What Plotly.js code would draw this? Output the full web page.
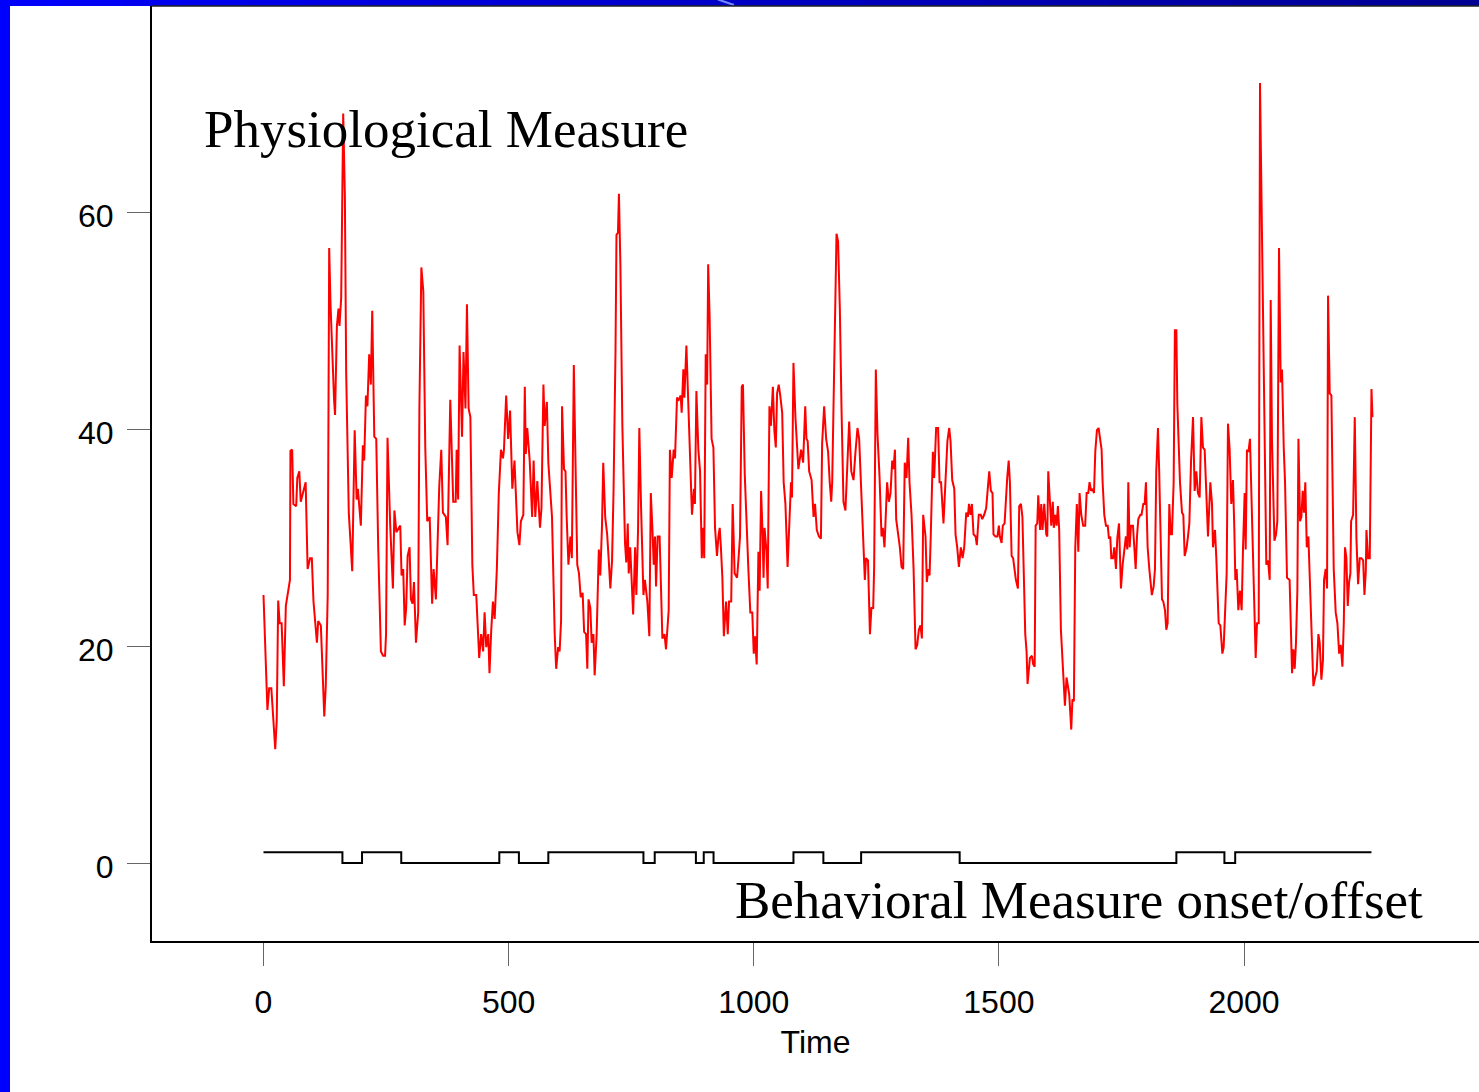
<!DOCTYPE html>
<html>
<head>
<meta charset="utf-8">
<script src="https://cdn.plot.ly/plotly-3.0.1.min.js"></script>
<style>html,body{margin:0;padding:0;background:#fff;}#chart{width:1479px;height:1092px;}</style>
</head>
<body>
<div id="chart"></div>
<script>
// ---- Physiological measure (red) in six pieces ----
const timeA = [0,8,11.6,16,24,27,30,33,37,41.5,
45.6,50,54,55,58.5,61,66.7,69,73,76,
81,86,90,95,98.6,102,109,111.6,117,124,
127,131,134,136.7,144,146,149.7,153,155,158.5,
162.6,166,168.7,174,181,186,190,192.5,198.6,202.7,
205.4,209,212,215.6,219,221.8,226,230,234,239.5,
244,248,250,253,258.5,264,267,271,279,281.6,
285,288,291,294,298,300.7,304,307,311,315.6,
318,322,326,330,334,339,344,347,351.7,355,
358.5,362.6,366,372,375.5];
const physioA = [24.7,14.1,16.1,16.1,10.5,13.1,24.2,22.1,22.1,16.3,
23.7,25.1,26.1,38.0,38.1,33.1,32.9,35.5,36.1,33.3,
34.3,35.1,27.1,28.1,28.1,24.1,20.3,22.3,21.9,13.5,
16.3,24.7,56.7,51.5,42.7,41.3,49.5,51.1,49.5,52.1,
69.1,61.5,45.1,32.3,26.9,39.9,33.5,34.5,31.1,38.5,
37.1,43.1,42.1,46.9,44.1,50.9,39.3,39.1,29.1,19.5,
19.1,19.1,21.1,39.2,31.1,25.3,32.5,30.5,31.1,26.5,
27.1,21.9,23.5,28.3,29.1,24.3,23.9,25.9,20.3,23.1,
41.9,54.9,52.7,38.3,31.5,31.9,23.9,27.1,24.3,29.9,
34.7,38.1,32.3,31.9,29.3];

const timeB = [381,387,392,394,397,400,405,408,412,415,
418.4,422,426,429,434,440,444,448,451,454.4,
458.5,461,464.6,468,471.5,476,480,484.4,488.5,490.5,
495,499,503,507.5,512,518,522,525,530,533,
535,538,543,548,551,554.4,558.5,564,567,571,
573.5,578,581,584.4,588.5,594,597,601,604,607,
609,613,616,618.4,622,626,629,633,637,640,
643.5,647,651,654,658,660.5,663,666.7,669.4,673,
675.5,679.6,684,687,690.5,693,697,701,704,707.5,
711,714,718,720,723,725,728,732,737.4,740,
743,745,748];
const physioB = [42.7,33.3,33.3,38.1,33.5,47.7,39.3,47.1,41.9,51.5,
41.9,41.1,27.5,24.7,24.7,18.9,21.1,19.5,23.1,19.9,
21.1,17.5,21.5,24.1,22.5,27.1,34.1,38.1,37.3,38.1,
43.1,39.1,41.7,34.5,37.1,30.5,29.3,31.5,32.1,43.9,
37.7,40.1,37.1,31.9,37.1,31.9,35.2,30.9,32.7,44.1,
40.3,42.5,36.9,34.3,31.9,21.1,17.9,19.9,19.5,22.3,
42.1,36.3,36.1,31.9,27.5,30.1,28.1,45.9,36.3,27.5,
26.7,24.5,24.9,21.3,21.1,17.9,24.3,23.5,20.3,21.1,
17.3,21.1,28.9,26.5,31.1,36.9,31.9,30.3,28.1,25.3,
27.9,34.3,47.1,57.9,58.1,61.7,55.1,40.3,29.5,27.7,
31.3,26.7,29.1];

const timeC = [754,758,760.5,764,766.6,770,775,778,783,787,
790,793,796,798.6,800.7,804,808,813.6,818,821,
824,826.5,829,832.6,836.7,839.4,843.5,847,851,853,
856.4,858.5,862.6,866.6,869,874,878,880,883,887,
890.5,894,897,899,902,905,907,910,914,917.7,
921,925,928,930.6,933,936,939,943.5,947,949.6,
954,957,961,966,969,972,975.5,978,981.6,985.7,
989,993,997,1000,1002.7,1006,1009.5,1012,1015,1018,
1020,1022,1026,1028.5,1032,1035,1039,1042,1045,1047.6,
1051,1054,1058,1061,1064.6,1069,1072,1076,1078,1081,
1085,1088,1091,1096.6,1100.7,1105,1107.5,1110,1113,1118,
1122,1125,1128.6,1133,1137];
const physioC = [22.9,29.1,24.7,30.7,40.1,33.1,24.7,26.1,24.1,20.9,
34.1,31.1,27.5,30.1,25.5,30.1,30.1,20.7,21.1,19.7,
22.1,23.3,38.1,35.5,38.1,37.3,42.9,42.7,43.1,41.5,
45.5,42.9,47.7,41.5,38.1,32.1,34.5,33.1,43.5,38.1,
36.1,28.1,30.9,28.1,46.9,44.1,55.2,50.3,39.1,38.3,
30.9,28.3,30.1,30.9,29.1,26.3,20.9,24.1,21.1,24.1,
24.1,33.1,26.7,26.3,28.1,30.1,43.9,44.1,35.9,29.9,
27.1,23.1,23.1,19.3,20.9,18.3,28.7,25.1,34.3,30.3,
26.3,30.9,28.7,25.3,42.1,40.3,43.9,39.9,38.3,43.3,
44.1,43.1,41.5,35.1,33.1,27.3,30.3,35.1,33.7,46.1,
41.1,38.1,36.3,38.1,36.9,42.1,39.1,38.9,36.1,35.3,
31.9,33.1,30.7,30.1,29.9];

const timeD = [1139.5,1143.6,1147.7,1151.7,1155,1158,1160,1164,1168.8,1172,
1175.6,1179,1183,1187,1191,1194.6,1199,1203.5,1207.5,1211.6,
1215,1218.4,1221,1226.6,1229,1233,1237,1240,1243.6,1245.6,
1249,1252.4,1256.5,1260.6,1263.3,1266.7,1272,1275.6,1279,1282.4,
1285,1288,1290.5,1294.6,1298,1301.4,1304.8,1308,1311.6,1315,
1317.7,1321.8,1326,1330,1333.4,1336.8,1340,1343,1345.6,1350.4,
1353,1355.8,1358.6,1361,1365.4,1368,1372,1376,1379,1382,
1387,1391,1395,1398.7,1401.4,1404.8,1409,1411.6,1415,1418.4,
1422.5,1426,1429.3,1433.4,1436.8,1439,1442,1445,1448.3,1452.5,
1455,1459,1463,1466,1470,1474,1477.6,1480.3,1483.7,1487,
1489,1493,1497,1500,1502,1505.5,1508,1511.6];
const physioD = [38.7,42.1,39.1,37.9,35.1,33.3,35.1,45.5,58.0,57.3,
51.1,41.9,33.3,32.5,36.1,40.7,36.1,35.3,37.9,40.1,
39.1,35.1,31.5,26.1,28.1,27.9,21.1,23.5,23.5,27.3,
45.5,39.5,35.7,30.1,30.9,29.1,35.1,33.3,34.1,37.1,
36.3,38.1,31.7,30.5,29.1,27.3,27.1,36.9,35.5,39.2,
35.1,32.1,27.1,19.7,20.1,21.5,21.9,20.7,32.1,30.1,
25.9,27.1,26.5,30.1,37.9,35.5,40.1,40.1,35.1,35.1,
31.3,35.1,38.9,40.1,38.9,35.3,34.5,30.3,29.1,27.3,
29.1,28.1,29.1,32.3,31.9,33.1,32.1,33.1,30.3,30.1,
29.3,32.1,32.1,31.7,32.1,32.7,35.1,36.1,34.3,34.1,
30.3,30.1,30.1,31.1,30.1,29.5,31.1,31.3];

const timeE = [1517,1520,1522.5,1526,1529,1532,1534.7,1538.8,1541.5,1545,
1548,1553.8,1556.5,1558.5,1563.3,1567.4,1570,1573,1575,1578.3,
1580.3,1584,1586.4,1589,1592.5,1596.6,1598.7,1600.7,1603.4,1606.8,
1610,1612,1615,1617.7,1620.4,1623,1626.5,1631,1634.7,1638,
1641,1643.5,1647.6,1650,1653,1655.8,1659,1662,1664.6,1668,
1672,1676,1679,1682.3,1685,1688,1691,1694,1696.6,1700,
1703.4,1707,1709.5,1711.6,1715,1718.4,1722,1724.5,1727.2,1729.3,
1732.7,1735.4,1738.8,1741.5,1745,1749,1752.4,1756.5,1759,1762,
1764,1766.7,1769.4,1773.5,1776.2,1779,1781.7,1784.4,1788.5,1791,
1794.6,1797.3,1800,1803.4,1806.8,1809.5,1812,1815.7,1818.4,1821,
1824.5,1827,1830,1832.7,1835.4,1838.8,1841.5,1844.2,1847.6,1850.4,
1853,1856.5,1859,1862,1864,1866.7,1869.4,1873.5,1876.2,1879,
1883,1885.7,1888.5,1892,1894,1896];
const physioE = [35.5,37.1,35.1,28.3,28.1,27.1,26.1,25.3,32.9,33.1,
31.9,21.1,19.5,16.5,18.9,19.1,18.3,18.1,31.1,31.3,
33.9,30.7,33.1,30.7,33.1,30.3,30.1,36.1,34.1,31.1,
33.3,30.9,32.1,31.1,32.9,30.7,21.5,17.1,14.5,17.1,
16.1,15.5,12.3,15.1,14.9,29.1,33.1,28.7,34.1,32.1,
31.1,31.1,34.1,34.1,35.1,34.3,34.5,34.1,37.9,39.9,
40.1,39.1,38.1,35.1,32.1,31.1,31.1,29.9,30.1,28.1,
28.1,29.1,27.1,29.9,31.3,25.3,27.5,29.1,30.1,28.9,
35.1,29.1,31.1,31.1,29.1,27.1,30.1,31.7,32.1,32.1,
33.1,33.1,35.1,29.1,27.1,26.1,24.7,25.5,27.1,36.1,
40.1,36.1,28.1,24.3,24.1,23.3,21.5,22.1,33.1,30.3,
30.3,35.1,49.1,49.1,42.3,39.1,35.1,32.3,32.1,28.3,
29.1,30.1,31.3,37.1,38.7,41.1];

const timeF = [1899.3,1902.7,1906,1909.5,1913,1916.3,1919.7,1923,1926.5,1931.3,
1934.7,1936.7,1940.8,1943.5,1948.3,1951.7,1955.8,1958.5,1961.2,1964.6,
1967.3,1970.7,1974,1977.5,1980.3,1982.3,1985,1988.4,1991.8,1995.2,
1998,2001.3,2003.4,2006,2009,2012.2,2015.6,2019.7,2023.8,2026.5,
2030,2032.6,2035.4,2038.8,2042.8,2045.5,2049,2052.4,2054.4,2057,
2062,2065.3,2068,2071.4,2074.8,2077.5,2081,2083.7,2087.7,2093,
2098,2100.7,2103.4,2106,2108.8,2111,2114.3,2117,2119.7,2122.4,
2125,2128,2131.3,2134,2138,2141.5,2145,2148.3,2151.7,2154.4,
2157.8,2161,2163.2,2166.6,2169.4,2171.4,2174.8,2178.2,2183,2187,
2190.5,2194,2197.3,2200.7,2203.5,2206,2208.8,2211.6,2214.3,2217,
2218.4,2222.5,2225.9,2229.3,2232.7,2236,2239.5,2243,2245.6,2248.4,
2249.7,2253,2256.5,2258.5,2260,2262];
const physioF = [34.3,36.1,34.1,33.7,41.1,38.3,38.1,33.1,30.1,35.1,
33.1,29.1,30.7,28.1,22.1,21.9,19.3,19.9,23.1,26.7,
40.5,38.1,33.1,35.3,30.7,26.1,27.1,23.3,25.1,23.3,
29.1,34.1,28.9,38.1,37.9,39.1,33.1,25.1,18.9,22.1,
22.1,71.9,61.1,48.3,32.3,27.5,27.9,26.1,51.9,39.1,
29.7,30.3,31.5,56.7,44.3,45.5,38.3,35.1,26.3,26.1,
17.5,19.7,17.9,20.3,25.1,39.1,31.5,31.9,34.3,32.3,
35.1,29.1,30.1,26.1,20.3,16.3,17.1,17.7,21.1,20.3,
16.9,18.7,26.1,27.1,25.3,52.3,43.3,43.1,27.1,23.1,
22.1,19.3,20.1,18.1,22.1,29.1,28.1,23.7,25.9,26.7,
31.5,32.1,41.1,29.9,25.7,28.1,28.1,27.9,24.7,26.9,
30.7,28.1,28.1,35.5,43.7,41.1];

// ---- Behavioral measure onset/offset (black step line) ----
const stepTime  = [0,161,201,281,481,521,581,775,798,882,898,918,1081,1142,1219,1420,1862,1960,1982,2260];
const stepState = [1,0,1,0,1,0,1,0,1,0,1,0,1,0,1,0,1,0,1,1];

// ---- Axis ticks and labels ----
const xTicks = [0,500,1000,1500,2000];
const yTicks = [0,20,40,60];
const xTitle = "Time";
const physioLabel = "Physiological Measure";
const behavLabel = "Behavioral Measure onset/offset";

const time = [].concat(timeA,timeB,timeC,timeD,timeE,timeF);
const physio = [].concat(physioA,physioB,physioC,physioD,physioE,physioF);
if (time.length !== physio.length) console.error("length mismatch", time.length, physio.length);

const traces = [
  {x: time, y: physio, type: "scatter", mode: "lines",
   line: {color: "#ff0000", width: 2}, hoverinfo: "skip"},
  {x: stepTime, y: stepState, type: "scatter", mode: "lines",
   line: {color: "#000000", width: 2, shape: "hv"}, hoverinfo: "skip"}
];

// slide frame: blue bars (left solid, top shading to navy)
const W = 1327; // plot width in px
function px2paper(px){ return (px - 152) / W; }
const frame = [];
frame.push({type:"rect", xref:"paper", yref:"paper", x0:px2paper(0), x1:px2paper(10), y0:-0.2, y1:1.02,
  fillcolor:"#0000ff", line:{width:0}, layer:"above"});
const nSeg = 24;
for (let i = 0; i < nSeg; i++) {
  const a = i / nSeg, b = (i + 1) / nSeg;
  const t = (a + b) / 2;
  const blue = Math.round(250 - 105 * t);
  frame.push({type:"rect", xref:"paper", yref:"paper",
    x0: px2paper(1479 * a), x1: px2paper(1479 * b) + 0.001,
    y0: 1, y1: 1 + 7/935,
    fillcolor: "rgb(0,0," + blue + ")", line:{width:0}, layer:"above"});
}
frame.push({type:"rect", xref:"paper", yref:"paper", x0:px2paper(0), x1:px2paper(10), y0:0.5, y1:1+7/935,
  fillcolor:"#0000ff", line:{width:0}, layer:"above"});
frame.push({type:"line", xref:"paper", yref:"paper", x0:px2paper(718), x1:px2paper(734), y0:1+6.5/935, y1:1+1/935,
  line:{color:"#6f8cff", width:2}, layer:"above"});
// top edge of the chart box
frame.push({type:"line", xref:"paper", yref:"paper", x0:0, x1:1, y0:1, y1:1,
  line:{color:"#222", width:1.5}, layer:"above"});

const axisFont = {family: "Liberation Sans, Arial, sans-serif", size: 32, color: "#000"};
const serifFont = {family: "Liberation Serif, Times New Roman, serif", size: 53, color: "#000"};

const layout = {
  width: 1479, height: 1092,
  paper_bgcolor: "#ffffff", plot_bgcolor: "#ffffff",
  margin: {l:152, r:0, t:6, b:151, pad:0},
  showlegend: false,
  xaxis: {
    range: [-227.4, 2479.3], tickvals: xTicks, ticktext: xTicks.map(String),
    ticks: "outside", ticklen: 23, tickwidth: 1, tickcolor: "#666",
    showline: true, linecolor: "#000", linewidth: 2,
    showgrid: false, zeroline: false,
    tickfont: axisFont,
    ticklabelstandoff: 9,
    title: {text: xTitle, font: axisFont, standoff: 11}
  },
  yaxis: {
    range: [-7.19, 79.0], tickvals: yTicks, ticktext: yTicks.map(String),
    ticks: "outside", ticklen: 23, tickwidth: 1, tickcolor: "#666",
    showline: true, linecolor: "#000", linewidth: 2,
    showgrid: false, zeroline: false,
    tickfont: axisFont,
    ticklabelstandoff: 7,
    ticklabelshift: 4
  },
  shapes: frame,
  annotations: [
    {text: physioLabel, xref:"paper", yref:"paper", x: px2paper(202), y: (941-129)/935,
     xanchor:"left", yanchor:"middle", showarrow:false, font: serifFont},
    {text: behavLabel, xref:"paper", yref:"paper", x: px2paper(733), y: (941-900)/935,
     xanchor:"left", yanchor:"middle", showarrow:false, font: serifFont}
  ]
};

Plotly.newPlot("chart", traces, layout, {displayModeBar:false, staticPlot:true});
</script>
</body>
</html>
